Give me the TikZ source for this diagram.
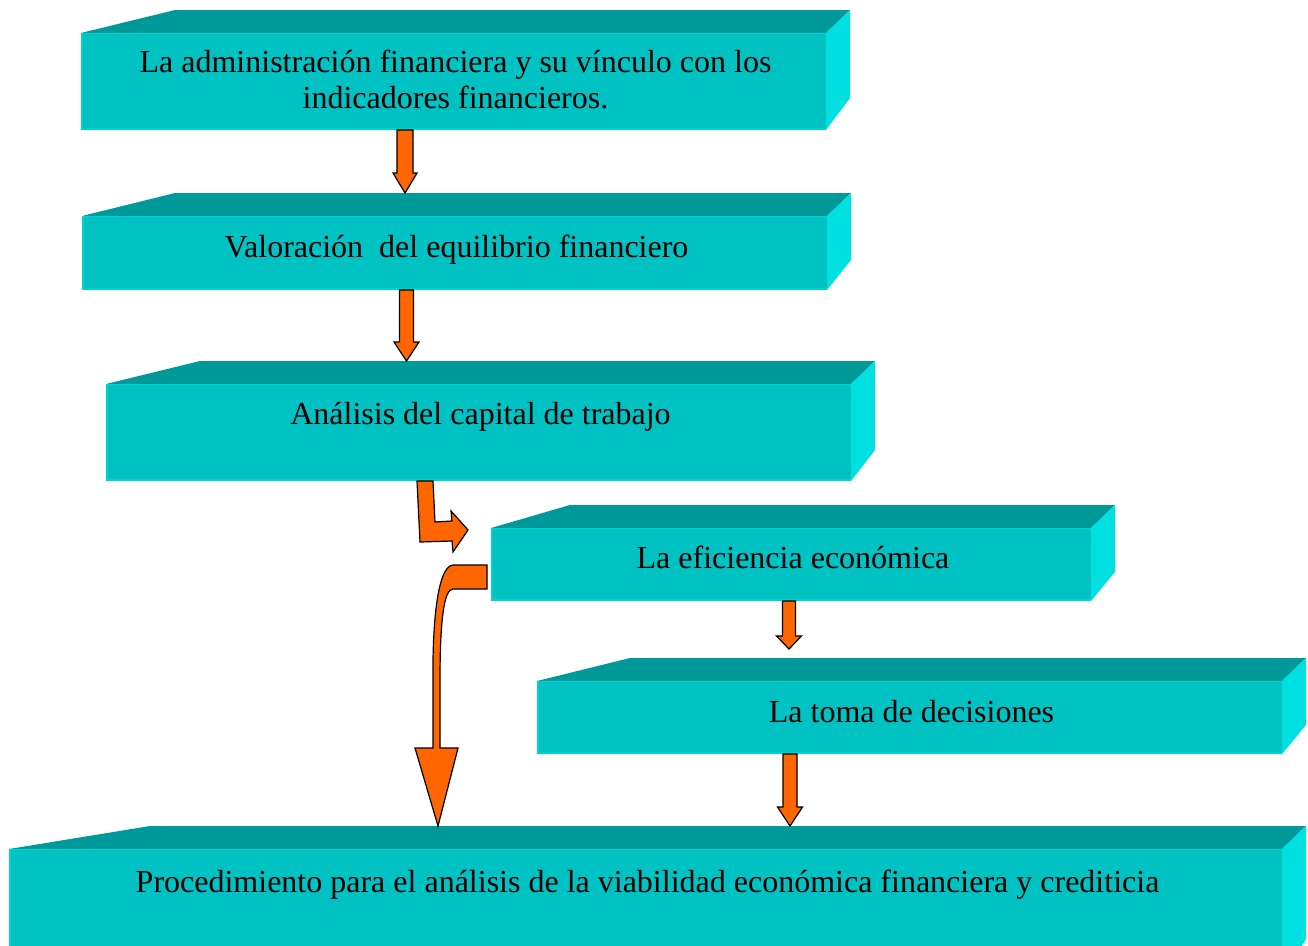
\documentclass[tikz,border=0pt]{standalone}
\usepackage{fontspec}
\setmainfont{Liberation Serif}
\usetikzlibrary{calc}
\definecolor{topc}{HTML}{009999}
\definecolor{frontc}{HTML}{00C2C2}
\definecolor{sidec}{HTML}{00E0E0}
\definecolor{edgec}{HTML}{00D2D2}
\definecolor{arrc}{HTML}{FF6600}
\tikzset{
  front/.style={fill=frontc, draw=none, inner sep=0pt, outer sep=0pt, anchor=north west},
  txt/.style={font=\fontsize{32}{36}\selectfont, anchor=base, inner sep=0pt, align=center},
  arr/.style={fill=arrc, draw=black, line width=1.2pt, line join=miter},
}
% #1 name, #2 x, #3 y, #4 width, #5 height, #6 back-left offset, #7 right bottom rise
\newcommand\cubebox[7]{%
  \node[front, minimum width=#4pt, minimum height=#5pt] (#1) at (#2,#3) {};
  \fill[topc] (#1.north west) -- ($(#1.north west)+(#6,-23)$) -- ($(#1.north east)+(24,-23)$) -- (#1.north east) -- cycle;
  \fill[sidec] (#1.north east) -- ($(#1.north east)+(24,-23)$) -- ($(#1.south east)+(24,-#7)$) -- (#1.south east) -- cycle;
  \draw[edgec, line width=2pt] ($(#1.north west)+(1,1)$) -- ($(#1.south west)+(1,-1)$) -- ($(#1.south east)+(0,-1)$);
  \draw[edgec, line width=1pt] ($(#1.north west)+(0,0.5)$) -- ($(#1.north east)+(0,0.5)$);
  \coordinate (#1back) at ($(#1.north west)+(0,-23)$);
}
% vertical block arrow: #1 start point, #2 tip y reference, #3 shaft half width, #4 head half width, #5 head length
\newcommand\varrow[5]{%
  \draw[arr] ($(#1)+(-#3,0)$) -- ($(#1 |- #2)+(-#3,-#5)$) -- ($(#1 |- #2)+(-#4,-#5)$) -- (#1 |- #2)
    -- ($(#1 |- #2)+(#4,-#5)$) -- ($(#1 |- #2)+(#3,-#5)$) -- ($(#1)+(#3,0)$) -- cycle;
}
\begin{document}
\begin{tikzpicture}[x=1pt,y=-1pt]
\useasboundingbox (0,0) rectangle (1308,945);
\clip (0,0) rectangle (1308,945);

\cubebox{b1}{81}{33}{745}{97}{94}{32}
\cubebox{b2}{82}{216}{745}{74}{93}{30}
\cubebox{b3}{106}{384}{745}{97}{94}{31}
\cubebox{b4}{491}{528}{600}{73}{79}{29}
\cubebox{b5}{537}{681}{745}{73}{93}{29}
\cubebox{b6}{9}{849}{1273}{130}{141}{40}

\node[txt] (t1) at ($(b1.north)+(2,75)$) {La administración financiera y su vínculo con los\\indicadores financieros.};
\node[txt] (t2) at ($(b2.north)+(2,41)$) {Valoración\ \ del equilibrio financiero};
\node[txt] (t3) at ($(b3.north)+(2,40)$) {Análisis del capital de trabajo};
\node[txt] (t4) at ($(b4.north)+(2,40)$) {La eficiencia económica};
\node[txt] (t5) at ($(b5.north)+(2,41)$) {La toma de decisiones};
\node[txt] (t6) at ($(b6.north)+(2,43)$) {Procedimiento para el análisis de la viabilidad económica financiera y crediticia};

% straight arrows
\coordinate (a1s) at ($(b1.south west)+(324,0)$);
\varrow{a1s}{b2back}{8}{12}{20}
\coordinate (a2s) at ($(b2.south west)+(324.5,0)$);
\varrow{a2s}{b3back}{7}{12.5}{19}
\coordinate (a5s) at ($(b4.south west)+(298,0)$);
\coordinate (a5e) at ($(b5back)+(0,-9)$);
\varrow{a5s}{a5e}{6.5}{12.5}{13}
\coordinate (a6s) at ($(b5.south west)+(253,0)$);
\varrow{a6s}{b6back}{7}{12.5}{19}

% bent arrow b3 -> b4
\draw[arr] ($(b3.south west)+(311,0)$) -- ($(b3.south west)+(327,0)$) -- ($(b3.south west)+(329,41)$)
  -- ($(b3.south west)+(346,40)$) -- ($(b3.south west)+(345,30)$) -- ($(b3.south west)+(362,49)$)
  -- ($(b3.south west)+(347,71)$) -- ($(b3.south west)+(346,60)$) -- ($(b3.south west)+(314,61)$) -- cycle;

% curved arrow b4 -> b6
\coordinate (cx) at ($(b4.north west)+(-53,0)$);
\coordinate (ctip) at (cx |- b6back);
\draw[arr] ($(b4.north west)+(-4,37)$) -- ($(b4.north west)+(-38,37)$)
  .. controls ($(b4.north west)+(-50,38)$) and ($(b4.north west)+(-57,72)$) .. ($(b4.north west)+(-58,132)$)
  -- ($(b4.north west)+(-58,220)$) -- ($(b4.north west)+(-76,220)$) -- (ctip)
  -- ($(b4.north west)+(-33,220)$) -- ($(b4.north west)+(-51,220)$) -- ($(b4.north west)+(-51,152)$)
  .. controls ($(b4.north west)+(-51,92)$) and ($(b4.north west)+(-47,61)$) .. ($(b4.north west)+(-38,61)$)
  -- ($(b4.north west)+(-4,61)$) -- cycle;
\end{tikzpicture}
\end{document}
